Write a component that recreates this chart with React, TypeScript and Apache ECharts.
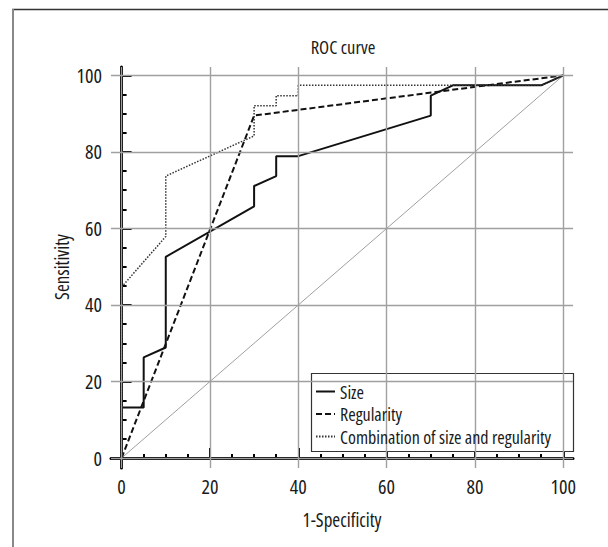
import React, { useEffect, useRef } from "react";
import * as echarts from "echarts";

const sizeFpr = [0, 0, 5, 5, 10, 10, 30, 30, 35, 35, 40, 70, 70, 75, 95, 100];
const sizeTpr = [0, 13.2, 13.2, 26.3, 28.9, 52.6, 65.8, 71.1, 73.7, 78.9, 78.9, 89.5, 94.7, 97.4, 97.4, 100];
const regFpr = [0, 30, 100];
const regTpr = [0, 89.5, 100];
const combFpr = [0, 0, 10, 10, 30, 30, 35, 35, 40, 40, 95, 100];
const combTpr = [0, 44.7, 57.9, 73.7, 84.2, 92.1, 92.1, 94.7, 94.7, 97.4, 97.4, 100];
const refFpr = [0, 100];
const refTpr = [0, 100];
const majorTicks = [0, 20, 40, 60, 80, 100];
const minorTicks = [5, 10, 15, 25, 30, 35, 45, 50, 55, 65, 70, 75, 85, 90, 95];
const seriesNames = ["Size", "Regularity", "Combination of size and regularity"];

const FONT = "'Open Sans'";
const FS = 19;
const TXT = "#1a1a1a";
const X_MIN = -2.4, X_MAX = 102.2, Y_MIN = -2.6, Y_MAX = 102.2;

const zip = (xs: number[], ys: number[]) => xs.map((x, i) => [x, ys[i]]);

export default function App() {
  const ref = useRef<HTMLDivElement>(null);
  useEffect(() => {
    document.body.style.margin = "0";
    const chart = echarts.init(ref.current!, null, { renderer: "svg" });
    const axisCommon = {
      type: "value" as const,
      gridIndex: 0,
      splitLine: { show: false },
    };
    const labelStyle = { fontFamily: FONT, fontSize: FS, color: TXT };
    const tickStyle = { fontFamily: FONT, fontSize: 20, color: TXT };
    chart.setOption({
      animation: false,
      backgroundColor: "#fff",
      grid: { left: 111, top: 67, width: 462, height: 401 },
      xAxis: [
        {
          ...axisCommon,
          min: X_MIN,
          max: X_MAX,
          name: "1-Specificity",
          nameLocation: "middle",
          nameGap: 42,
          nameTextStyle: labelStyle,
          axisLine: { show: true, lineStyle: { color: "#000", width: 3 } },
          axisTick: { show: true, inside: true, length: 10, customValues: majorTicks, lineStyle: { color: "#000", width: 2 } },
          axisLabel: { show: true, customValues: majorTicks, margin: 8, ...tickStyle },
        },
        {
          ...axisCommon,
          min: X_MIN,
          max: X_MAX,
          position: "bottom",
          axisLine: { show: false },
          axisTick: { show: true, inside: true, length: 4, customValues: minorTicks, lineStyle: { color: "#000", width: 2 } },
          axisLabel: { show: false },
        },
      ],
      yAxis: [
        {
          ...axisCommon,
          min: Y_MIN,
          max: Y_MAX,
          axisLine: { show: true, lineStyle: { color: "#000", width: 3 } },
          axisTick: { show: true, inside: true, length: 10, customValues: majorTicks, lineStyle: { color: "#000", width: 2 } },
          axisLabel: { show: true, customValues: majorTicks, margin: 9, ...tickStyle },
        },
        {
          ...axisCommon,
          min: Y_MIN,
          max: Y_MAX,
          position: "left",
          axisLine: { show: false },
          axisTick: { show: true, inside: true, length: 5, customValues: minorTicks, lineStyle: { color: "#000", width: 2 } },
          axisLabel: { show: false },
        },
      ],
      legend: {
        orient: "vertical",
        left: 310,
        top: 377.5,
        z: 10,
        itemWidth: 19,
        itemHeight: 14,
        itemGap: 4.5,
        data: seriesNames,
        itemStyle: { opacity: 0 },
        textStyle: { fontFamily: FONT, fontSize: 18, color: TXT, lineHeight: 18 },
      },
      graphic: [
        { type: "line", shape: { x1: 12, y1: 9.5, x2: 608, y2: 9.5 }, style: { stroke: "#333", lineWidth: 1.5 }, z: 100 },
        { type: "line", shape: { x1: 13, y1: 9, x2: 13, y2: 547 }, style: { stroke: "#888", lineWidth: 2 }, z: 100 },
        { type: "rect", shape: { x: 311.5, y: 373.5, width: 262, height: 78 }, style: { fill: "#fff", stroke: "#333", lineWidth: 1.2 }, z: 4 },
        {
          type: "text",
          x: 343,
          y: 46,
          style: { text: "ROC curve", fontFamily: FONT, fontSize: 18.5, fill: TXT, textAlign: "center", textVerticalAlign: "middle" },
          z: 100,
        },
        {
          type: "text",
          x: 62,
          y: 267,
          rotation: Math.PI / 2,
          style: { text: "Sensitivity", fontFamily: FONT, fontSize: FS, fill: TXT, textAlign: "center", textVerticalAlign: "middle" },
          z: 100,
        },
      ],
      series: [
        {
          name: "reference",
          type: "line",
          data: zip(refFpr, refTpr),
          symbol: "none",
          silent: true,
          lineStyle: { color: "#a0a0a0", width: 1 },
          z: 1,
          markLine: {
            silent: true,
            symbol: "none",
            label: { show: false },
            lineStyle: { color: "#a0a0a0", width: 1.4, type: "solid" },
            data: [
              ...majorTicks.map((v) => ({ xAxis: v })),
              ...majorTicks.map((v) => ({ yAxis: v })),
            ],
          },
        },
        {
          name: seriesNames[0],
          type: "line",
          data: zip(sizeFpr, sizeTpr),
          symbol: "none",
          lineStyle: { color: "#111", width: 2, type: "solid" },
          itemStyle: { color: "#111" },
          z: 3,
        },
        {
          name: seriesNames[1],
          type: "line",
          data: zip(regFpr, regTpr),
          symbol: "none",
          lineStyle: { color: "#111", width: 2, type: [6, 3] },
          itemStyle: { color: "#111" },
          z: 3,
        },
        {
          name: seriesNames[2],
          type: "line",
          data: zip(combFpr, combTpr),
          symbol: "none",
          lineStyle: { color: "#333", width: 1.5, type: [1.5, 1.5] },
          itemStyle: { color: "#333" },
          z: 3,
        },
      ],
    });
    return () => chart.dispose();
  }, []);
  return (
    <>
      <style>{"#root svg text { font-stretch: condensed !important; }"}</style>
      <div ref={ref} style={{ width: 608, height: 547 }} />
    </>
  );
}
